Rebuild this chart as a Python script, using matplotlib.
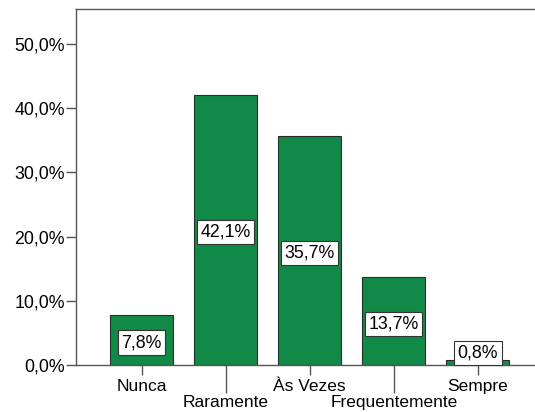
import matplotlib
matplotlib.use("Agg")
import matplotlib.pyplot as plt
from matplotlib.ticker import FuncFormatter

categories = ["Nunca", "Raramente", "Às Vezes", "Frequentemente", "Sempre"]
percent = [7.8, 42.1, 35.7, 13.7, 0.8]
y_ticks = [0, 10, 20, 30, 40, 50]

plt.rcParams["font.family"] = ["Liberation Sans", "DejaVu Sans"]

W, H = 535, 412
fig = plt.figure(figsize=(W / 100, H / 100), dpi=100)
fig.patch.set_facecolor("white")

PX = 72 / 100  # points per pixel at 100 dpi

left_px, right_px, top_px, bottom_px = 76, 535, 9, 365
ax = fig.add_axes([left_px / W, (H - bottom_px) / H,
                   (right_px - left_px) / W, (bottom_px - top_px) / H])

bar_color = "#118a47"
x = list(range(len(categories)))
ax.bar(x, percent, width=0.75, color=bar_color, edgecolor="#2b2b2b", linewidth=0.8, zorder=2)

ax.set_xlim(-0.78, 4.68)
ax.set_ylim(0, 55.45)

spine_color = "#555555"
for side in ("left", "top", "bottom"):
    ax.spines[side].set_color(spine_color)
    ax.spines[side].set_linewidth(1.0)
ax.spines["right"].set_visible(False)

ax.set_yticks(y_ticks)
ax.yaxis.set_major_formatter(FuncFormatter(lambda v, p: f"{v:.1f}%".replace(".", ",")))
ax.tick_params(axis="y", length=10 * PX, width=1, color=spine_color, labelsize=12.8,
               pad=1 * PX)

# staggered category labels: even positions on the first row, odd ones lower
even = [i for i in x if i % 2 == 0]
odd = [i for i in x if i % 2 == 1]
ax.set_xticks(even)
ax.set_xticklabels([categories[i] for i in even])
ax.set_xticks(odd, minor=True)
ax.set_xticklabels([categories[i] for i in odd], minor=True)
ax.tick_params(axis="x", which="major", length=10 * PX, width=1, color=spine_color,
               labelsize=12.5, pad=4 * PX)
ax.tick_params(axis="x", which="minor", length=28 * PX, width=1, color=spine_color,
               labelsize=12.5, pad=2 * PX)

# value labels in white boxes, just below the middle of each bar
for xi, v in zip(x, percent):
    ypos = max(v / 2 - 0.4, 1.9)
    ax.text(xi, ypos, f"{v:.1f}%".replace(".", ","), ha="center", va="center",
            fontsize=12.8, zorder=3,
            bbox=dict(boxstyle="square,pad=0.2", facecolor="white",
                      edgecolor="#333333", linewidth=0.8))

fig.savefig("out.png", dpi=100, facecolor="white")
